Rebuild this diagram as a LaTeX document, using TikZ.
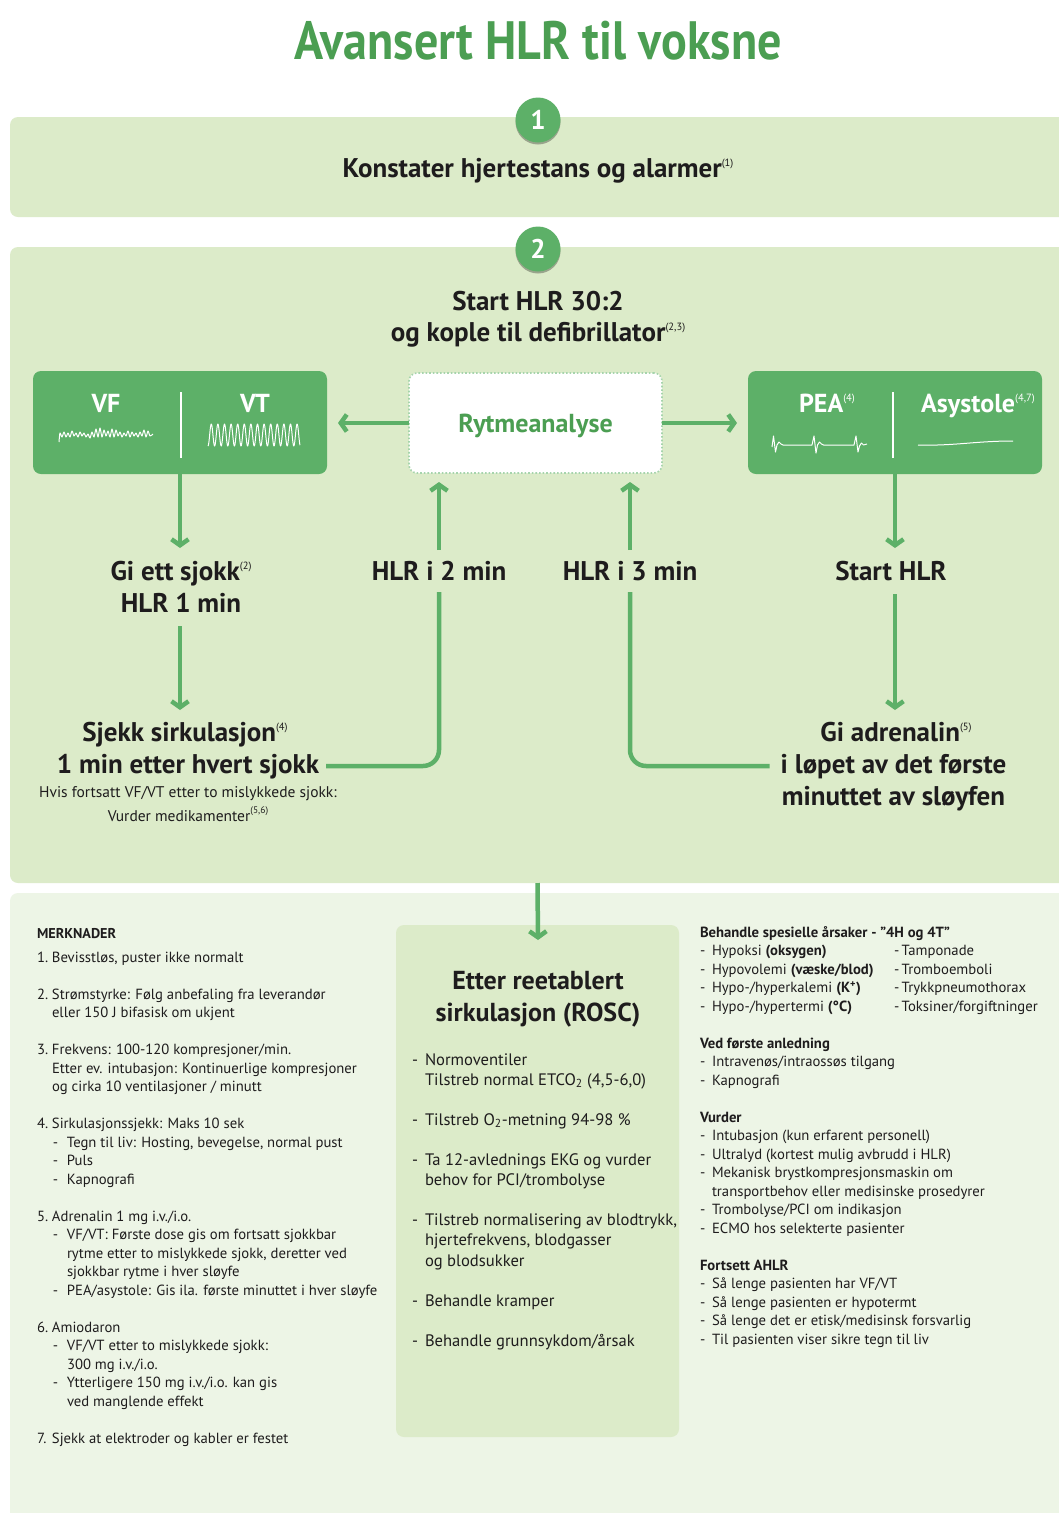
\documentclass[tikz,border=0pt]{standalone}
\usepackage{fontspec}
\setmainfont{PT Sans}
\newfontfamily\hd{PT Sans}
\newfontfamily\hdt[FakeStretch=0.89]{PT Sans}
\usetikzlibrary{arrows.meta,shadows,calc}
\definecolor{dg}{HTML}{5DB068}
\definecolor{tg}{HTML}{4B9E52}
\definecolor{lp}{HTML}{DCEBC9}
\definecolor{vp}{HTML}{EDF5E6}
\definecolor{tx}{HTML}{1E1C1D}
\newcommand\sr[1]{\raisebox{11pt}{\mdseries\fontsize{10.5}{10.5}\selectfont(#1)}}
\newcommand\dd{\makebox[14pt][l]{-}}
\newcommand\de{\makebox[12pt][l]{-}}
\begin{document}
\begin{tikzpicture}[x=1pt,y=-1pt,
  every node/.style={inner sep=0pt, outer sep=0pt},
  panel/.style={fill=lp, rounded corners=8pt, anchor=north west, draw=none},
  gbox/.style={fill=dg, rounded corners=8pt, anchor=north west, minimum width=294pt, minimum height=103pt},
  rbox/.style={fill=white, draw=dg!55, dotted, line width=1.6pt, rounded corners=8pt, minimum width=253pt, minimum height=100pt,
     font=\hd\bfseries\fontsize{26}{26}\selectfont, text=tg, text height=18pt, text depth=0pt},
  numc/.style={circle, fill=dg, minimum size=45pt, text=white, font=\hd\bfseries\fontsize{27}{27}\selectfont,
     drop shadow={shadow xshift=0pt, shadow yshift=-2pt, opacity=0.3, fill=black}},
  hd/.style={font=\hd\bfseries\fontsize{27}{32}\selectfont, text=tx, anchor=base, text height=19pt, text depth=5pt},
  wt/.style={font=\hd\bfseries\fontsize{26}{26}\selectfont, text=white, anchor=base},
  arr/.style={draw=dg, line width=4.5pt, -{Straight Barb[length=6pt, width=17pt]}},
  lp2/.style={draw=dg, line width=4.5pt},
  wave/.style={draw=white, line width=1pt, line join=round},
  body/.style={anchor=base west, align=left, text=tx, font=\fontsize{14.7}{18.5}\selectfont},
  rbody/.style={anchor=base west, align=left, text=tx, font=\fontsize{16.6}{20.1}\selectfont}
]
\useasboundingbox (0,0) rectangle (1058,1513);
\fill[white] (0,0) rectangle (1058,1513);

% title
\node[anchor=base, text=tg, font=\hdt\bfseries\fontsize{54}{60}\selectfont] (title) at (538,59) {Avansert HLR til voksne};

% panels
\node[panel, minimum width=1080pt, minimum height=100pt] (p1) at (10,117) {};
\node[panel, minimum width=1080pt, minimum height=636pt] (p2) at (10,247) {};
\node[panel, fill=vp, minimum width=1080pt, minimum height=660pt] (p3) at (10,893) {};
\node[panel, minimum width=283pt, minimum height=512pt] (rosc) at (396,925) {};

\node[numc] (c1) at (538,120) {1};
\node[numc] (c2) at (538,249) {2};

\node[hd] (k1) at (538,177) {Konstater hjertestans og alarmer\sr{1}};
\node[hd] (s1) at (538,310) {Start HLR 30:2};
\node[hd] (s2) at (538,341) {og kople til defibrillator\sr{2,3}};

% rhythm boxes
\node[gbox] (vfbox) at (33,371) {};
\node[gbox] (peabox) at (748,371) {};
\node[rbox] (rytme) at (535.5,423) {Rytmeanalyse};

\node[wt] (vf) at (106,412) {VF};
\node[wt] (vt) at (255,412) {VT};
\node[wt] (pea) at (827,412) {PEA\sr{4}};
\node[wt] (asy) at (978,412) {Asystole\sr{4,7}};
\draw[white, line width=1.2pt] (181,392) -- (181,458);
\draw[white, line width=1.2pt] (893,392) -- (893,458);

% waves
\draw[wave] plot[smooth, tension=0.5] coordinates {(59,442) (60,433) (62,437) (64,432) (66,437) (68,433) (70,437) (72,431) (74,436) (76,433) (78,437) (80,432) (82,436) (84,433) (86,437) (88,434) (90,438) (92,432) (94,437) (96,429) (98,437) (100,428) (102,437) (104,430) (106,436) (108,431) (110,437) (112,429) (114,437) (116,430) (118,436) (120,432) (122,437) (124,433) (126,436) (128,431) (130,437) (132,432) (134,436) (136,433) (138,437) (140,432) (142,436) (144,430) (146,437) (148,431) (150,436) (153,434)};
\draw[wave] plot[domain=0:92, samples=280, smooth] ({208+\x},{435+11*cos(54.545*\x)});
\draw[wave] plot coordinates {(772,447) (773.5,436) (775.5,452) (777,445) (779,442) (781,444) (783,445) (812,445) (814,436) (816,453) (817.5,445) (819.5,442) (821.5,444) (823.5,445) (854,445) (856,436) (858,452) (859.5,446) (861.5,443) (863.5,445) (867,444)};
\draw[wave] (918,445) .. controls (955,446) and (975,441) .. (1013,441);

% arrows around rhythm analysis
\draw[arr, shorten >=11pt] (rytme.west) -- (rytme.west -| vfbox.east);
\draw[arr, shorten >=11pt] (rytme.east) -- (rytme.east -| peabox.west);

% left column
\node[hd] (gi1) at (181,580) {Gi ett sjokk\sr{2}};
\node[hd] (hlr1) at (181,612) {HLR 1 min};
\node[hd] (sj1) at (185,741) {Sjekk sirkulasjon\sr{4}};
\node[hd] (sj2) at (188,773) {1 min etter hvert sjokk};
\node[anchor=base, text=tx, font=\hd\fontsize{15.5}{20}\selectfont] (hv1) at (188,797) {Hvis fortsatt VF/VT etter to mislykkede sjokk:};
\node[anchor=base, text=tx, font=\hd\fontsize{15.5}{20}\selectfont] (hv2) at (188,821) {Vurder medikamenter\raisebox{8pt}{\fontsize{9.5}{9.5}\selectfont(5,6)}};

\draw[arr, shorten >=13pt] (vfbox.south) -- (vfbox.south |- gi1.north);
\draw[arr, shorten <=9pt, shorten >=12pt] (vfbox.south |- hlr1.south) -- (vfbox.south |- sj1.north);

% loops
\node[hd] (hlr2) at (439,580) {HLR i 2 min};
\node[hd] (hlr3) at (630,580) {HLR i 3 min};
\draw[lp2, rounded corners=16pt, shorten <=7pt, shorten >=7pt] (sj2.east) -| (hlr2.south);
\draw[arr, shorten <=11pt, shorten >=9pt] (hlr2.north) -- (hlr2.north |- rytme.south);

% right column
\node[hd] (sh) at (891,580) {Start HLR};
\node[hd] (adr1) at (896,741) {Gi adrenalin\sr{5}};
\node[hd] (adr2) at (893.5,773) {i løpet av det første};
\node[hd] (adr3) at (893.5,805) {minuttet av sløyfen};
\draw[arr, shorten >=13pt] (peabox.south) -- (peabox.south |- sh.north);
\draw[arr, shorten <=9pt, shorten >=12pt] (peabox.south |- sh.south) -- (peabox.south |- adr1.north);
\draw[lp2, rounded corners=16pt, shorten <=11pt, shorten >=7pt] (adr2.west) -| (hlr3.south);
\draw[arr, shorten <=11pt, shorten >=9pt] (hlr3.north) -- (hlr3.north |- rytme.south);

% ROSC
\coordinate (rtip) at (538,940);
\draw[arr] (rosc.north |- p2.south) -- (rtip);
\node[hd, font=\hd\bfseries\fontsize{26}{32}\selectfont] (et1) at (538,989) {Etter reetablert};
\node[hd, font=\hd\bfseries\fontsize{26}{32}\selectfont] (et2) at (538,1021) {sirkulasjon (ROSC)};
\node[rbody] (rl) at (412,1346.4) {\makebox[13pt][l]{-}Normoventiler\\
\hspace*{13pt}Tilstreb normal ETCO\textsubscript{2} (4,5-6,0)\\[20.1pt]
\makebox[13pt][l]{-}Tilstreb O\textsubscript{2}-metning 94-98 \%\\[20.1pt]
\makebox[13pt][l]{-}Ta 12-avlednings EKG og vurder\\
\hspace*{13pt}behov for PCI/trombolyse\\[20.1pt]
\makebox[13pt][l]{-}Tilstreb normalisering av blodtrykk,\\
\hspace*{13pt}hjertefrekvens, blodgasser\\
\hspace*{13pt}og blodsukker\\[20.1pt]
\makebox[13pt][l]{-}Behandle kramper\\[20.1pt]
\makebox[13pt][l]{-}Behandle grunnsykdom/årsak};

% notes
\node[anchor=base west, text=tx, font=\hd\bfseries\fontsize{14.2}{18}\selectfont] (merk) at (37,938) {MERKNADER};
\node[body] (notes) at (37,1443) {\makebox[15pt][l]{1.}Bevisstløs, puster ikke normalt\\[18.5pt]
\makebox[15pt][l]{2.}Strømstyrke: Følg anbefaling fra leverandør\\
\hspace*{15pt}eller 150 J bifasisk om ukjent\\[18.5pt]
\makebox[15pt][l]{3.}Frekvens: 100-120 kompresjoner/min.\\
\hspace*{15pt}Etter ev. intubasjon: Kontinuerlige kompresjoner\\
\hspace*{15pt}og cirka 10 ventilasjoner / minutt\\[18.5pt]
\makebox[15pt][l]{4.}Sirkulasjonssjekk: Maks 10 sek\\
\hspace*{16pt}\dd Tegn til liv: Hosting, bevegelse, normal pust\\
\hspace*{16pt}\dd Puls\\
\hspace*{16pt}\dd Kapnografi\\[18.5pt]
\makebox[15pt][l]{5.}Adrenalin 1 mg i.v./i.o.\\
\hspace*{16pt}\dd VF/VT: Første dose gis om fortsatt sjokkbar\\
\hspace*{30pt}rytme etter to mislykkede sjokk, deretter ved\\
\hspace*{30pt}sjokkbar rytme i hver sløyfe\\
\hspace*{16pt}\dd PEA/asystole: Gis ila. første minuttet i hver sløyfe\\[18.5pt]
\makebox[15pt][l]{6.}Amiodaron\\
\hspace*{16pt}\dd VF/VT etter to mislykkede sjokk:\\
\hspace*{30pt}300 mg i.v./i.o.\\
\hspace*{16pt}\dd Ytterligere 150 mg i.v./i.o. kan gis\\
\hspace*{30pt}ved manglende effekt\\[18.5pt]
\makebox[15pt][l]{7.}Sjekk at elektroder og kabler er festet};

% right column notes
\node[body] (causes) at (700,1344) {{\bfseries Behandle spesielle årsaker - ”4H og 4T”}\\
\makebox[194pt][l]{\de Hypoksi \textbf{(oksygen)}}-\,Tamponade\\
\makebox[194pt][l]{\de Hypovolemi \textbf{(væske/blod)}}-\,Tromboemboli\\
\makebox[194pt][l]{\de Hypo-/hyperkalemi \textbf{(K\textsuperscript{+})}}-\,Trykkpneumothorax\\
\makebox[194pt][l]{\de Hypo-/hypertermi \textbf{(°C)}}-\,Toksiner/forgiftninger\\[18.5pt]
{\bfseries Ved første anledning}\\
\de Intravenøs/intraossøs tilgang\\
\de Kapnografi\\[18.5pt]
{\bfseries Vurder}\\
\de Intubasjon (kun erfarent personell)\\
\de Ultralyd (kortest mulig avbrudd i HLR)\\
\de Mekanisk brystkompresjonsmaskin om\\
\hspace*{12pt}transportbehov eller medisinske prosedyrer\\
\de Trombolyse/PCI om indikasjon\\
\de ECMO hos selekterte pasienter\\[18.5pt]
{\bfseries Fortsett AHLR}\\
\de Så lenge pasienten har VF/VT\\
\de Så lenge pasienten er hypotermt\\
\de Så lenge det er etisk/medisinsk forsvarlig\\
\de Til pasienten viser sikre tegn til liv};
\end{tikzpicture}
\end{document}
